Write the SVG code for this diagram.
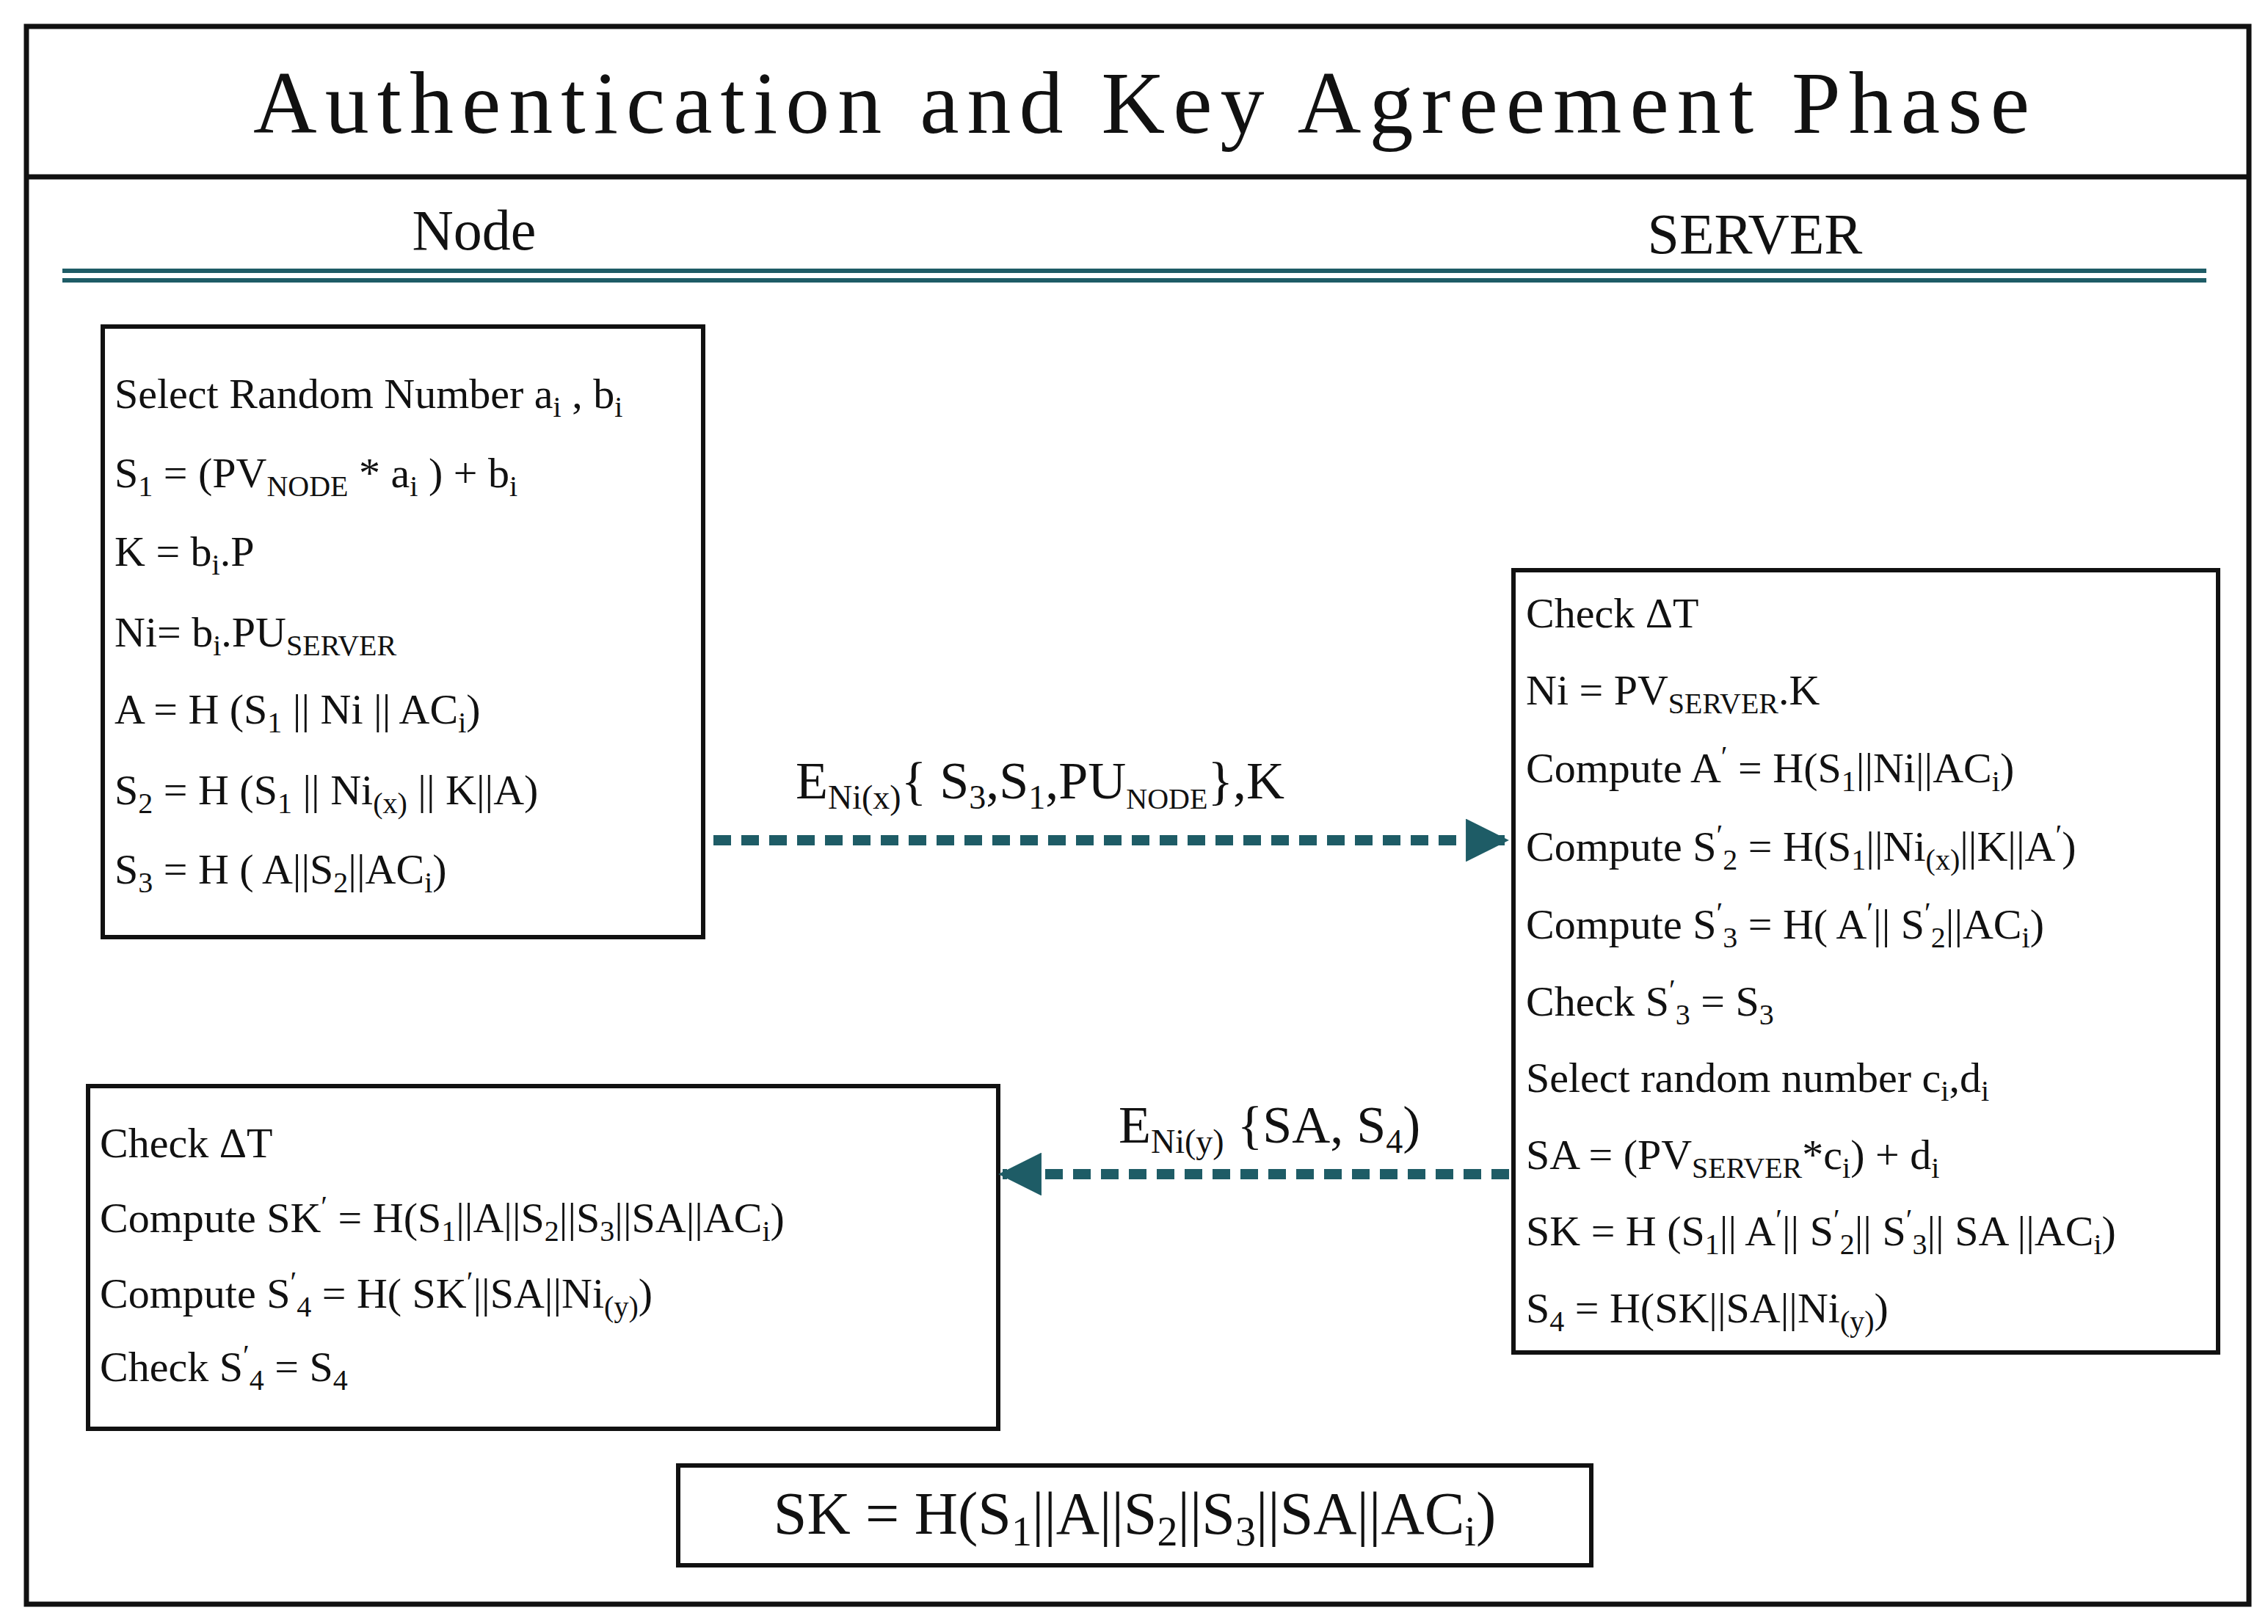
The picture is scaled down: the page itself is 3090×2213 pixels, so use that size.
<svg xmlns="http://www.w3.org/2000/svg" width="3090" height="2213" viewBox="0 0 3090 2213">
<style>
text{font-family:"Liberation Serif","Times New Roman",serif;fill:#111}
.t{font-size:58px}
.s{font-size:40px;baseline-shift:-12px}
.p{font-size:40px;baseline-shift:22px}
.box{fill:#fff;stroke:#111;stroke-width:6}
.dash{stroke:#1e5c66;stroke-width:14;stroke-dasharray:24 14;fill:none}
</style>
<defs>
<marker id="ah" viewBox="0 0 10 10" refX="9" refY="5" markerWidth="5.5" markerHeight="4.2" orient="auto" markerUnits="strokeWidth"><path d="M0,0L10,5L0,10z" fill="#1e5c66"/></marker>
</defs>
<rect x="0" y="0" width="3090" height="2213" fill="#fff"/>
<rect x="36" y="36" width="3028" height="2150" fill="none" stroke="#111" stroke-width="7"/>
<line x1="36" y1="241" x2="3064" y2="241" stroke="#111" stroke-width="7"/>
<text x="345" y="181" font-size="120" textLength="2420" lengthAdjust="spacing">Authentication and Key Agreement Phase</text>
<text x="646" y="340" font-size="78" text-anchor="middle">Node</text>
<text x="2391" y="345" font-size="78" text-anchor="middle">SERVER</text>
<line x1="85" y1="369" x2="3006" y2="369" stroke="#1e5c66" stroke-width="6"/>
<line x1="85" y1="382" x2="3006" y2="382" stroke="#1e5c66" stroke-width="6"/>

<g id="node1">
<rect class="box" x="140" y="445" width="818" height="832"/>
<text class="t" x="156" y="556">Select Random Number a<tspan class="s">i</tspan> , b<tspan class="s">i</tspan></text>
<text class="t" x="156" y="664">S<tspan class="s">1</tspan> = (PV<tspan class="s">NODE</tspan> * a<tspan class="s">i</tspan> ) + b<tspan class="s">i</tspan></text>
<text class="t" x="156" y="771">K = b<tspan class="s">i</tspan>.P</text>
<text class="t" x="156" y="881">Ni= b<tspan class="s">i</tspan>.PU<tspan class="s">SERVER</tspan></text>
<text class="t" x="156" y="986">A = H (S<tspan class="s">1</tspan> || Ni || AC<tspan class="s">i</tspan>)</text>
<text class="t" x="156" y="1096">S<tspan class="s">2</tspan> = H (S<tspan class="s">1</tspan> || Ni<tspan class="s">(x)</tspan> || K||A)</text>
<text class="t" x="156" y="1204">S<tspan class="s">3</tspan> = H ( A||S<tspan class="s">2</tspan>||AC<tspan class="s">i</tspan>)</text>
</g>

<g id="server">
<rect class="box" x="2062" y="777" width="960" height="1066"/>
<text class="t" x="2079" y="855">Check ΔT</text>
<text class="t" x="2079" y="960">Ni = PV<tspan class="s">SERVER</tspan>.K</text>
<text class="t" x="2079" y="1066">Compute A<tspan class="p">′</tspan> = H(S<tspan class="s">1</tspan>||Ni||AC<tspan class="s">i</tspan>)</text>
<text class="t" x="2079" y="1173">Compute S<tspan class="p">′</tspan><tspan class="s">2</tspan> = H(S<tspan class="s">1</tspan>||Ni<tspan class="s">(x)</tspan>||K||A<tspan class="p">′</tspan>)</text>
<text class="t" x="2079" y="1279">Compute S<tspan class="p">′</tspan><tspan class="s">3</tspan> = H( A<tspan class="p">′</tspan>|| S<tspan class="p">′</tspan><tspan class="s">2</tspan>||AC<tspan class="s">i</tspan>)</text>
<text class="t" x="2079" y="1384">Check S<tspan class="p">′</tspan><tspan class="s">3</tspan> = S<tspan class="s">3</tspan></text>
<text class="t" x="2079" y="1488">Select random number c<tspan class="s">i</tspan>,d<tspan class="s">i</tspan></text>
<text class="t" x="2079" y="1593">SA = (PV<tspan class="s">SERVER</tspan>*c<tspan class="s">i</tspan>) + d<tspan class="s">i</tspan></text>
<text class="t" x="2079" y="1697">SK = H (S<tspan class="s">1</tspan>|| A<tspan class="p">′</tspan>|| S<tspan class="p">′</tspan><tspan class="s">2</tspan>|| S<tspan class="p">′</tspan><tspan class="s">3</tspan>|| SA ||AC<tspan class="s">i</tspan>)</text>
<text class="t" x="2079" y="1802">S<tspan class="s">4</tspan> = H(SK||SA||Ni<tspan class="s">(y)</tspan>)</text>
</g>

<g id="node2">
<rect class="box" x="120" y="1480" width="1240" height="467"/>
<text class="t" x="136" y="1577">Check ΔT</text>
<text class="t" x="136" y="1679">Compute SK<tspan class="p">′</tspan> = H(S<tspan class="s">1</tspan>||A||S<tspan class="s">2</tspan>||S<tspan class="s">3</tspan>||SA||AC<tspan class="s">i</tspan>)</text>
<text class="t" x="136" y="1782">Compute S<tspan class="p">′</tspan><tspan class="s">4</tspan> = H( SK<tspan class="p">′</tspan>||SA||Ni<tspan class="s">(y)</tspan>)</text>
<text class="t" x="136" y="1882">Check S<tspan class="p">′</tspan><tspan class="s">4</tspan> = S<tspan class="s">4</tspan></text>
</g>

<g id="result">
<rect class="box" x="924" y="1997" width="1244" height="136"/>
<text x="1546" y="2090" font-size="82" text-anchor="middle">SK = H(S<tspan font-size="56" baseline-shift="-16px">1</tspan>||A||S<tspan font-size="56" baseline-shift="-16px">2</tspan>||S<tspan font-size="56" baseline-shift="-16px">3</tspan>||SA||AC<tspan font-size="56" baseline-shift="-16px">i</tspan>)</text>
</g>

<g id="connectors">
<line class="dash" x1="972" y1="1145" x2="2050" y2="1145" marker-end="url(#ah)"/>
<text x="1084" y="1088" font-size="72">E<tspan font-size="46" baseline-shift="-14px">Ni(x)</tspan>{ S<tspan font-size="46" baseline-shift="-14px">3</tspan>,S<tspan font-size="46" baseline-shift="-14px">1</tspan>,PU<tspan font-size="40" baseline-shift="-14px">NODE</tspan>},K</text>
<line class="dash" x1="2056" y1="1600" x2="1366" y2="1600" marker-end="url(#ah)"/>
<text x="1524" y="1557" font-size="72">E<tspan font-size="46" baseline-shift="-14px">Ni(y)</tspan> {SA, S<tspan font-size="46" baseline-shift="-14px">4</tspan>)</text>
</g>
</svg>
